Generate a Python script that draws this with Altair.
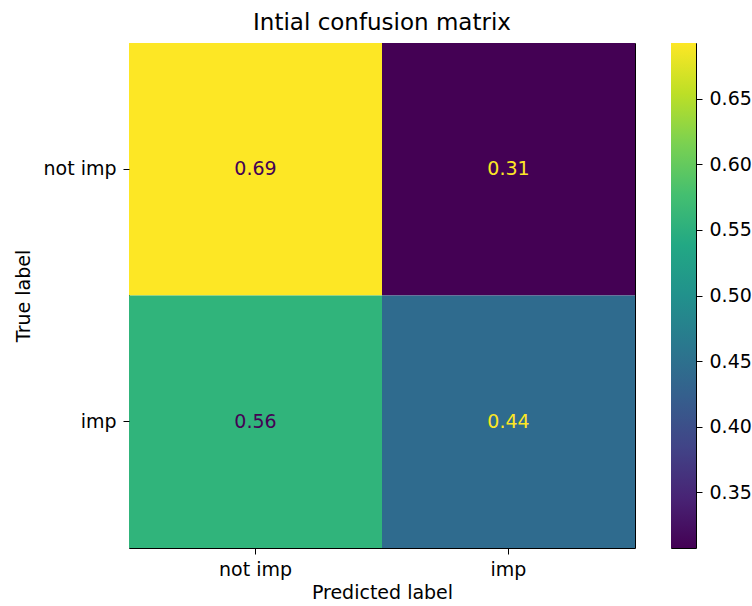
import altair as alt
import pandas as pd

# ---- data ----
true_labels = ["not imp", "not imp", "imp", "imp"]
pred_labels = ["not imp", "imp", "not imp", "imp"]
values = [0.6923, 0.3077, 0.5588, 0.4412]
display_text = ["0.69", "0.31", "0.56", "0.44"]
class_order = ["not imp", "imp"]
colorbar_ticks = [0.35, 0.40, 0.45, 0.50, 0.55, 0.60, 0.65]

vmin, vmax = min(values), max(values)

df = pd.DataFrame({"true": true_labels, "pred": pred_labels,
                   "value": values, "txt": display_text})

FONT = "DejaVu Sans"
FS = 19
W, H = 506, 505
CB_W = 25

viridis_stops = ["#440154", "#482475", "#414487", "#355f8d", "#2a788e",
                 "#21918c", "#22a884", "#44bf70", "#7ad151", "#bddf26", "#fde725"]

base = alt.Chart(df)

heat = base.mark_rect().encode(
    x=alt.X("pred:N", sort=class_order, title="Predicted label",
            scale=alt.Scale(paddingInner=0, paddingOuter=0),
            axis=alt.Axis(labelAngle=0, tickSize=6, labelPadding=6, titlePadding=4)),
    y=alt.Y("true:N", sort=class_order, title="True label",
            scale=alt.Scale(paddingInner=0, paddingOuter=0),
            axis=alt.Axis(tickSize=6, labelPadding=7, titlePadding=9)),
    color=alt.Color("value:Q", scale=alt.Scale(scheme="viridis", domain=[vmin, vmax]),
                    legend=None),
)

text = base.mark_text(fontSize=FS, font=FONT).encode(
    x=alt.X("pred:N", sort=class_order),
    y=alt.Y("true:N", sort=class_order),
    text="txt:N",
    color=alt.condition(alt.datum.value >= 0.5, alt.value("#440154"), alt.value("#fde725")),
)

main = (heat + text).properties(
    width=W, height=H,
    title=alt.TitleParams("Intial confusion matrix", fontSize=23, font=FONT,
                          fontWeight="normal", anchor="middle", offset=8, color="#000000"),
)

cb_df = pd.DataFrame({"lo": [vmin], "hi": [vmax]})
colorbar = alt.Chart(cb_df).mark_rect(
    color=alt.LinearGradient(
        gradient="linear",
        stops=[alt.GradientStop(offset=i / (len(viridis_stops) - 1), color=c)
               for i, c in enumerate(viridis_stops)],
        x1=0, x2=0, y1=1, y2=0,
    )
).encode(
    y=alt.Y("lo:Q", scale=alt.Scale(domain=[vmin, vmax], nice=False, zero=False),
            axis=alt.Axis(orient="right", values=colorbar_ticks, format=".2f",
                          title=None, tickSize=6, labelPadding=7, grid=False)),
    y2="hi:Q",
).properties(width=CB_W, height=H)

chart = alt.hconcat(main, colorbar, spacing=34).properties(
    padding={"left": 14, "top": 11, "right": 0, "bottom": 0}
).configure(
    font=FONT,
).configure_view(
    stroke="#000000", strokeWidth=1
).configure_axis(
    labelFont=FONT, titleFont=FONT, labelFontSize=FS, titleFontSize=FS,
    titleFontWeight="normal", labelColor="#000000", titleColor="#000000",
    tickColor="#000000", domain=False, grid=False,
)

chart.save("out.html", embed_options={"renderer": "svg", "actions": False})
